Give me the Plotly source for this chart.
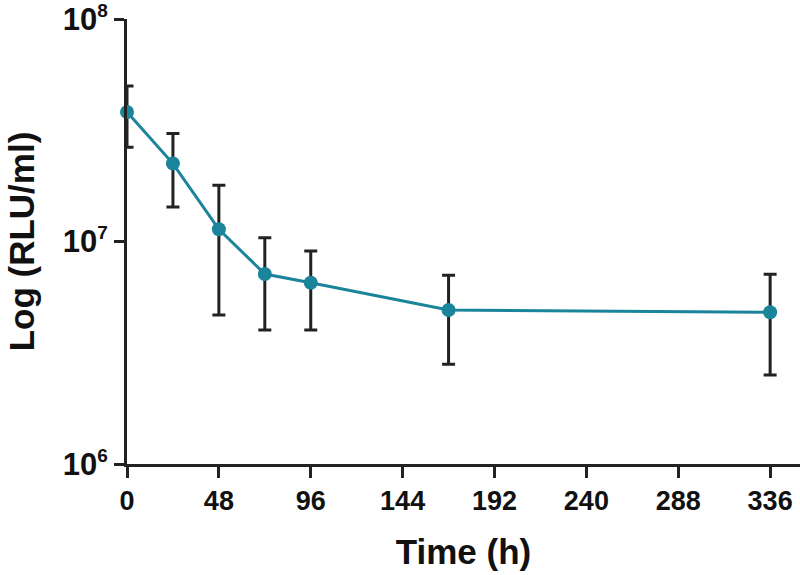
import plotly.graph_objects as go

time_h = [0, 24, 48, 72, 96, 168, 336]
rlu_mean = [3.82e7, 2.24e7, 1.135e7, 7.14e6, 6.53e6, 4.92e6, 4.81e6]
err_upper = [5.0e7, 3.06e7, 1.79e7, 1.04e7, 9.06e6, 7.06e6, 7.13e6]
err_lower = [2.65e7, 1.43e7, 4.67e6, 4.0e6, 4.0e6, 2.81e6, 2.51e6]

x_ticks = [0, 48, 96, 144, 192, 240, 288, 336]
y_ticks = [1e6, 1e7, 1e8]
y_exponents = [6, 7, 8]

plus = [u - m for u, m in zip(err_upper, rlu_mean)]
minus = [m - l for m, l in zip(rlu_mean, err_lower)]

teal = "#1a849a"
dark = "#222222"
font_family = "Liberation Sans, Arial, sans-serif"

fig = go.Figure()
fig.add_trace(go.Scatter(
    x=time_h, y=rlu_mean, mode="lines+markers",
    line=dict(color=teal, width=3),
    marker=dict(color=teal, size=14),
    error_y=dict(type="data", symmetric=False, array=plus, arrayminus=minus,
                 color=dark, thickness=3, width=6.5),
    cliponaxis=False, showlegend=False,
))

fig.update_layout(
    width=800, height=575,
    margin=dict(l=127, r=0, t=19, b=111),
    paper_bgcolor="white", plot_bgcolor="white",
    font=dict(family=font_family, color="#111111"),
    xaxis=dict(
        range=[0, 351.6], tickvals=x_ticks, ticktext=[f"<b>{v}</b>" for v in x_ticks],
        automargin=False, ticklabeloverflow="allow",
        showgrid=False, zeroline=False, showline=True, linecolor=dark, linewidth=3,
        ticks="outside", ticklen=11, tickwidth=3, tickcolor=dark,
        tickfont=dict(size=27, family=font_family, color="#111111"),
        title=dict(text="<b>Time (h)</b>", font=dict(size=35, family=font_family), standoff=25),
    ),
    yaxis=dict(
        type="log", range=[6, 8], tickvals=y_ticks,
        ticktext=[f"<b>10<sup><span style='font-size:19px'>{e}</span></sup></b>" for e in y_exponents],
        automargin=False, ticklabeloverflow="allow",
        showgrid=False, zeroline=False, showline=True, linecolor=dark, linewidth=3,
        ticks="outside", ticklen=10, tickwidth=3, tickcolor=dark,
        tickfont=dict(size=31, family=font_family, color="#111111"),
        title=dict(text="<b>Log (RLU/ml)</b>", font=dict(size=35, family=font_family), standoff=18),
    ),
)

fig.write_html("out.html", post_script="document.body.style.margin='0';",
               config={"displayModeBar": False})
